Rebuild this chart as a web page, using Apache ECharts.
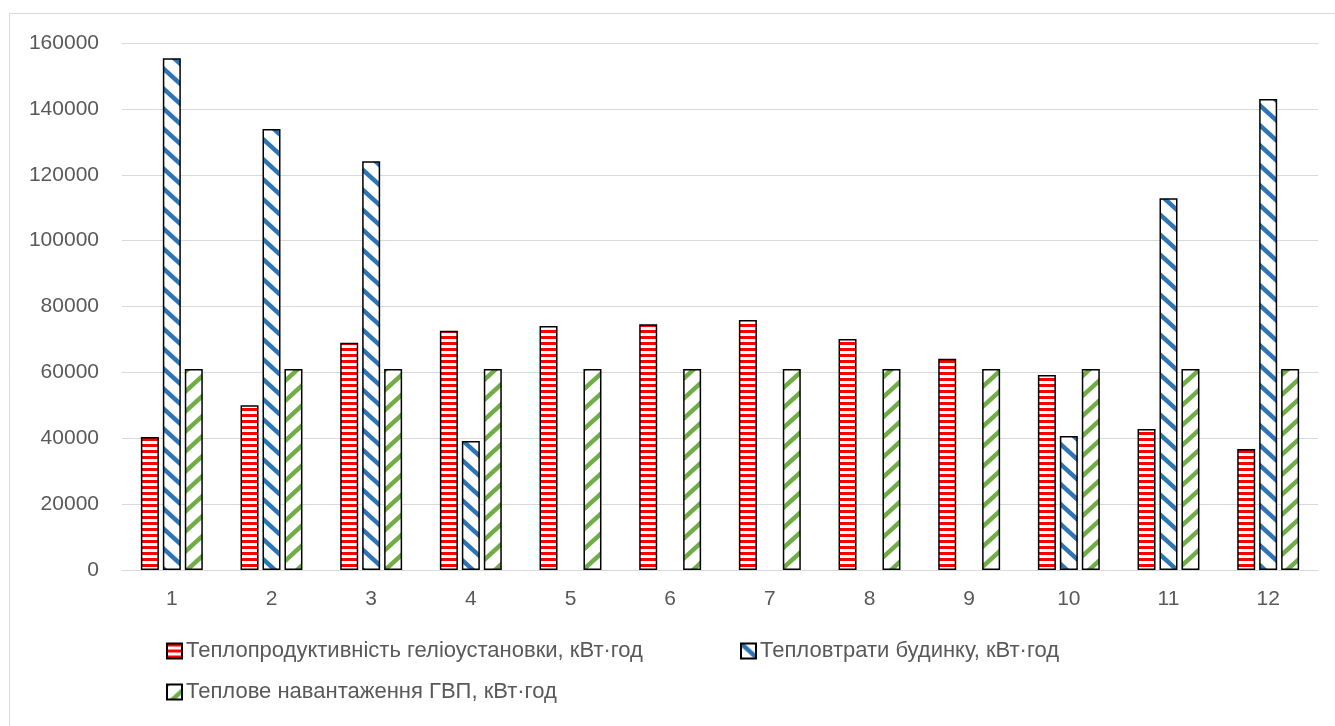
<!DOCTYPE html>
<html>
<head>
<meta charset="utf-8">
<script src="https://cdn.jsdelivr.net/npm/echarts@6/dist/echarts.min.js"></script>
<style>
html,body{margin:0;padding:0;background:#fff;}
#c{width:1335px;height:726px;}
</style>
</head>
<body>
<div id="c"></div>
<script>
const categories = ['1','2','3','4','5','6','7','8','9','10','11','12'];
const seriesNames = [
  'Теплопродуктивність геліоустановки, кВт·год',
  'Тепловтрати будинку, кВт·год',
  'Теплове навантаження ГВП, кВт·год'
];
const solarOutput = [40400, 50000, 69000, 72600, 74100, 74600, 75900, 70100, 64100, 59200, 42800, 36700];
const heatLoss    = [155400, 133900, 124100, 39200, 0, 0, 0, 0, 0, 40700, 112900, 143000];
const dhwLoad     = [61000, 61000, 61000, 61000, 61000, 61000, 61000, 61000, 61000, 61000, 61000, 61000];
const yTicks = { min: 0, max: 160000, interval: 20000 };

function hStripes(color) {
  const c = document.createElement('canvas');
  c.width = 6; c.height = 6;
  const g = c.getContext('2d');
  g.fillStyle = '#ffffff'; g.fillRect(0, 0, 6, 6);
  g.fillStyle = color; g.fillRect(0, 0, 6, 3);
  return c;
}
function diagStripes(color, down) {
  const W = 22, H = 20;
  const c = document.createElement('canvas');
  c.width = W; c.height = H;
  const g = c.getContext('2d');
  g.fillStyle = '#ffffff'; g.fillRect(0, 0, W, H);
  g.strokeStyle = color; g.lineWidth = 4.5;
  for (let k = -2; k <= 2; k++) {
    const x0 = k * W;
    g.beginPath();
    if (down) {
      g.moveTo(x0 - W, -H); g.lineTo(x0 + 2 * W, 2 * H);
    } else {
      g.moveTo(x0 - W, 2 * H); g.lineTo(x0 + 2 * W, -H);
    }
    g.stroke();
  }
  return c;
}

const patterns = [
  { image: hStripes('#ff0000'), repeat: 'repeat' },
  { image: diagStripes('#2e75b6', true), repeat: 'repeat' },
  { image: diagStripes('#70ad47', false), repeat: 'repeat' }
];
const dataSets = [solarOutput, heatLoss.map(v => v === 0 ? '-' : v), dhwLoad];

const txt = '#595959';
const font = 'Liberation Sans';

const chart = echarts.init(document.getElementById('c'), null, { renderer: 'canvas' });

function legendAt(name, left, top) {
  return {
    data: [name], left: left, top: top, padding: 0,
    itemWidth: 15, itemHeight: 15, icon: 'rect',
    selectedMode: false,
    textStyle: { color: txt, fontFamily: font, fontSize: 22, lineHeight: 22, padding: [0, 0, 0, -1] }
  };
}

chart.setOption({
  animation: false,
  backgroundColor: '#ffffff',
  graphic: [{
    type: 'rect', silent: true, z: -1,
    shape: { x: 9.5, y: 13.5, width: 1400, height: 800 },
    style: { fill: 'none', stroke: '#d9d9d9', lineWidth: 1 }
  }],
  grid: { left: 122, right: 17, top: 43, bottom: 156, containLabel: false },
  legend: [
    legendAt(seriesNames[0], 166, 640),
    legendAt(seriesNames[1], 740, 640),
    legendAt(seriesNames[2], 166, 681)
  ],
  xAxis: {
    type: 'category', data: categories,
    axisLine: { lineStyle: { color: '#d9d9d9', width: 1 } },
    axisTick: { show: false },
    axisLabel: { color: txt, fontFamily: font, fontSize: 21, margin: 19 }
  },
  yAxis: {
    type: 'value', min: yTicks.min, max: yTicks.max, interval: yTicks.interval,
    axisLine: { show: false }, axisTick: { show: false },
    splitLine: { lineStyle: { color: '#d9d9d9', width: 1 } },
    axisLabel: { color: txt, fontFamily: font, fontSize: 21, margin: 23, formatter: v => String(v) }
  },
  series: seriesNames.map((n, i) => ({
    name: n, type: 'bar', data: dataSets[i],
    barWidth: 18, barGap: '22%',
    itemStyle: { color: patterns[i], borderColor: '#000000', borderWidth: 1.5 }
  }))
});
</script>
</body>
</html>
